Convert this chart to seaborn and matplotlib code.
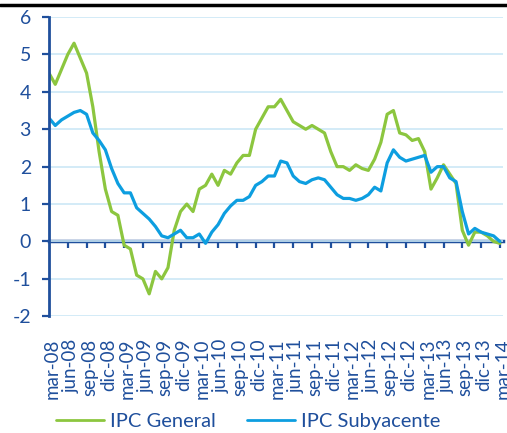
import numpy as np
import pandas as pd
import matplotlib
matplotlib.use('Agg')
import matplotlib.pyplot as plt
import matplotlib.transforms as mtransforms
from matplotlib.lines import Line2D
import seaborn as sns

# months from mar-08 to mar-14
meses = ['ene', 'feb', 'mar', 'abr', 'may', 'jun', 'jul', 'ago', 'sep', 'oct', 'nov', 'dic']
fechas = [f'{meses[m]}-{a:02d}' for a in range(8, 15) for m in range(12)][2:75]

ipc_general = [4.5, 4.2, 4.6, 5.0, 5.3, 4.9, 4.5, 3.6, 2.4, 1.4,
               0.8, 0.7, -0.1, -0.2, -0.9, -1.0, -1.4, -0.8, -1.0, -0.7, 0.3, 0.8,
               1.0, 0.8, 1.4, 1.5, 1.8, 1.5, 1.9, 1.8, 2.1, 2.3, 2.3, 3.0,
               3.3, 3.6, 3.6, 3.8, 3.5, 3.2, 3.1, 3.0, 3.1, 3.0, 2.9, 2.4,
               2.0, 2.0, 1.9, 2.05, 1.95, 1.9, 2.2, 2.65, 3.4, 3.5, 2.9, 2.85,
               2.7, 2.75, 2.4, 1.4, 1.7, 2.05, 1.8, 1.55, 0.3, -0.1, 0.25, 0.25,
               0.15, 0.0, -0.05]

ipc_subyacente = [3.3, 3.1, 3.25, 3.35, 3.45, 3.5, 3.4, 2.9, 2.7, 2.45,
                  1.95, 1.55, 1.3, 1.3, 0.9, 0.75, 0.6, 0.4, 0.15, 0.1, 0.2, 0.3,
                  0.1, 0.1, 0.2, -0.05, 0.25, 0.45, 0.75, 0.95, 1.1, 1.1, 1.2, 1.5,
                  1.6, 1.75, 1.75, 2.15, 2.1, 1.75, 1.6, 1.55, 1.65, 1.7, 1.65, 1.45,
                  1.25, 1.15, 1.15, 1.1, 1.15, 1.25, 1.45, 1.35, 2.1, 2.45, 2.25, 2.15,
                  2.2, 2.25, 2.3, 1.85, 2.0, 2.0, 1.7, 1.6, 0.8, 0.2, 0.35, 0.25,
                  0.2, 0.15, 0.0]

series = ['IPC General', 'IPC Subyacente']
colores = ['#8cc63f', '#0d9ee0']
azul_osc = '#1f4f9c'

df = pd.DataFrame({
    'idx': list(range(len(fechas))) * 2,
    'valor': ipc_general + ipc_subyacente,
    'serie': [series[0]] * len(fechas) + [series[1]] * len(fechas),
})

sns.set_style('white')
plt.rcParams['font.family'] = ['Lato', 'DejaVu Sans']
plt.rcParams['axes.unicode_minus'] = False

fig = plt.figure(figsize=(5.07, 4.33), dpi=100)
ax = fig.add_axes([49 / 507, 1 - 316.3 / 433, 454 / 507, 299.3 / 433])

sns.lineplot(data=df, x='idx', y='valor', hue='serie', hue_order=series,
             palette=colores, linewidth=2.3, ax=ax, legend=True)

ax.set_xlim(0, 72.5)
ax.set_ylim(-2, 6)
ax.set_xlabel('')
ax.set_ylabel('')

# y axis
yt = list(range(-2, 7))
ax.set_yticks(yt)
ax.set_yticklabels([str(v) for v in yt])
ax.yaxis.grid(True, color='#cce8f6', linewidth=1.2)
ax.xaxis.grid(False)
for s in ['top', 'right', 'bottom']:
    ax.spines[s].set_visible(False)
ax.spines['left'].set_color(azul_osc)
ax.spines['left'].set_linewidth(2)
ax.tick_params(axis='y', direction='out', length=5, width=1.6, color=azul_osc,
               labelcolor=azul_osc, labelsize=14, pad=8, left=True)

# x labels at the bottom, every 3 months
pos = list(range(0, len(fechas), 3))
ax.set_xticks(pos)
ax.set_xticklabels([fechas[p] for p in pos], rotation=90, va='top', ha='center')
ax.tick_params(axis='x', length=0, labelcolor=azul_osc, labelsize=13.5, pad=16)
off = mtransforms.ScaledTranslation(3 / 100, 0, fig.dpi_scale_trans)
for lab in ax.get_xticklabels():
    lab.set_transform(lab.get_transform() + off)

# zero line with its ticks
sec = ax.secondary_xaxis(0.25)
sec.set_xticks(pos[1:])
sec.tick_params(axis='x', direction='out', length=5, width=1.6, color=azul_osc,
                labelbottom=False)
sec.spines['bottom'].set_color(azul_osc)
sec.spines['bottom'].set_linewidth(2.5)

# legend
handles = [Line2D([0], [0], color=c, linewidth=2) for c in colores]
ax.legend(handles, series, loc='center left', bbox_to_anchor=(46 / 507, 1 - 421 / 433),
          bbox_transform=fig.transFigure, ncol=2, frameon=False, fontsize=14.5,
          handlelength=2.4, handletextpad=0.3, columnspacing=1.5, borderpad=0,
          labelcolor=azul_osc)

# black rule at the top
fig.add_artist(Line2D([0, 1], [1 - 5 / 433, 1 - 5 / 433], transform=fig.transFigure,
                      color='black', linewidth=2.5))

fig.savefig('out.png', dpi=100)
